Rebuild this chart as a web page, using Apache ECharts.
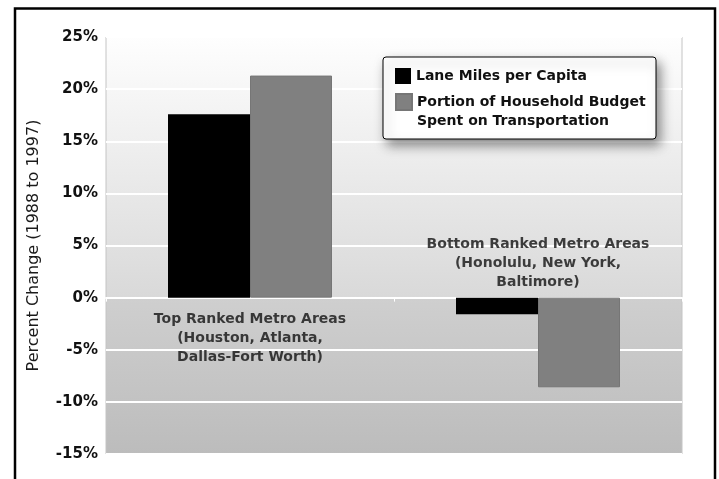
<!DOCTYPE html>
<html>
<head>
<meta charset="utf-8">
<script src="https://cdn.jsdelivr.net/npm/echarts@6/dist/echarts.min.js"></script>
<style>
  html, body { margin: 0; padding: 0; background: #fff; }
  #chart { width: 719px; height: 479px; }
</style>
</head>
<body>
<div id="chart"></div>
<script>
// Metro area groups shown along the category axis
const categories = [
  'Top Ranked Metro Areas\n(Houston, Atlanta,\nDallas-Fort Worth)',
  'Bottom Ranked Metro Areas\n(Honolulu, New York,\nBaltimore)'
];

// Percent change, 1988 to 1997
const laneMiles = [17.6, -1.6];
const householdBudget = [21.3, -8.6];

const seriesNames = [
  'Lane Miles per Capita',
  'Portion of Household Budget Spent on Transportation'
];

// Value axis range and step (percent)
const yMin = -15;
const yMax = 25;
const yStep = 5;

const FONT = 'DejaVu Sans, Verdana, sans-serif';

const chart = echarts.init(document.getElementById('chart'), null, { renderer: 'canvas' });

const legendText = {
  fontFamily: FONT,
  fontWeight: 'bold',
  fontSize: 14,
  lineHeight: 19,
  color: '#111'
};

chart.setOption({
  animation: false,
  backgroundColor: '#fff',
  grid: {
    left: 106, right: 37, top: 37, bottom: 25,
    show: true,
    borderColor: '#c4c4c4',
    borderWidth: 1,
    backgroundColor: {
      type: 'linear', x: 0, y: 0, x2: 0, y2: 1,
      colorStops: [
        { offset: 0, color: '#fefefe' },
        { offset: 0.625, color: '#d9d9d9' },
        { offset: 0.625, color: '#cfcfcf' },
        { offset: 1, color: '#bcbcbc' }
      ]
    }
  },
  xAxis: {
    type: 'category',
    data: categories,
    axisLine: { onZero: true, lineStyle: { color: '#ffffff', width: 2 } },
    axisTick: { show: true, length: 4, lineStyle: { color: '#ffffff', width: 1 } },
    axisLabel: { show: false },
    splitLine: { show: false }
  },
  yAxis: {
    type: 'value',
    min: yMin, max: yMax, interval: yStep,
    name: 'Percent Change (1988 to 1997)',
    nameLocation: 'middle',
    nameGap: 64,
    nameTextStyle: { fontFamily: FONT, fontSize: 16, color: '#1a1a1a' },
    axisLine: { show: false },
    axisTick: { show: false },
    axisLabel: {
      margin: 8,
      formatter: v => v + '%',
      fontFamily: FONT, fontWeight: 'bold', fontSize: 15, color: '#111'
    },
    splitLine: { lineStyle: { color: '#ffffff', width: 2 } }
  },
  legend: [
    {
      data: [seriesNames[0]],
      orient: 'vertical', left: 395, top: 66.5, padding: 0, z: 10,
      itemWidth: 16, itemHeight: 16, icon: 'rect',
      textStyle: legendText
    },
    {
      // a blank first line keeps the swatch level with the first text line
      data: [seriesNames[1]],
      orient: 'vertical', left: 395, top: 73.5, padding: 0, z: 10,
      itemWidth: 16, itemHeight: 16, icon: 'rect',
      formatter: n => ' \n' + n.replace('Budget ', 'Budget\n'),
      textStyle: legendText
    }
  ],
  graphic: [
    {
      type: 'rect', z: 3,
      shape: { x: 383, y: 57, width: 273, height: 82, r: 3 },
      style: {
        fill: '#ffffff', stroke: '#000000', lineWidth: 1,
        shadowBlur: 12, shadowOffsetX: 4, shadowOffsetY: 6,
        shadowColor: 'rgba(0,0,0,0.45)'
      }
    },
    {
      type: 'rect', z: 100, silent: true,
      shape: { x: 15, y: 8.5, width: 700, height: 520 },
      style: { fill: 'transparent', stroke: '#000000', lineWidth: 2.5 }
    }
  ],
  series: [
    {
      name: seriesNames[0],
      type: 'bar',
      data: laneMiles,
      barWidth: 82,
      barGap: '0%',
      itemStyle: { color: '#000000' }
    },
    {
      name: seriesNames[1],
      type: 'bar',
      data: householdBudget,
      barWidth: 82,
      itemStyle: { color: '#808080', borderColor: '#767676', borderWidth: 1 }
    },
    {
      // category captions sitting on the zero line
      type: 'scatter',
      symbolSize: 0,
      silent: true,
      z: 5,
      data: categories.map((c, i) => ({
        value: [i, 0],
        label: {
          show: true,
          position: i === 0 ? 'bottom' : 'top',
          distance: i === 0 ? 12 : 6,
          formatter: () => c,
          align: 'center',
          fontFamily: FONT, fontWeight: 'bold', fontSize: 14,
          lineHeight: 19, color: '#111'
        }
      }))
    }
  ]
});
</script>
</body>
</html>
